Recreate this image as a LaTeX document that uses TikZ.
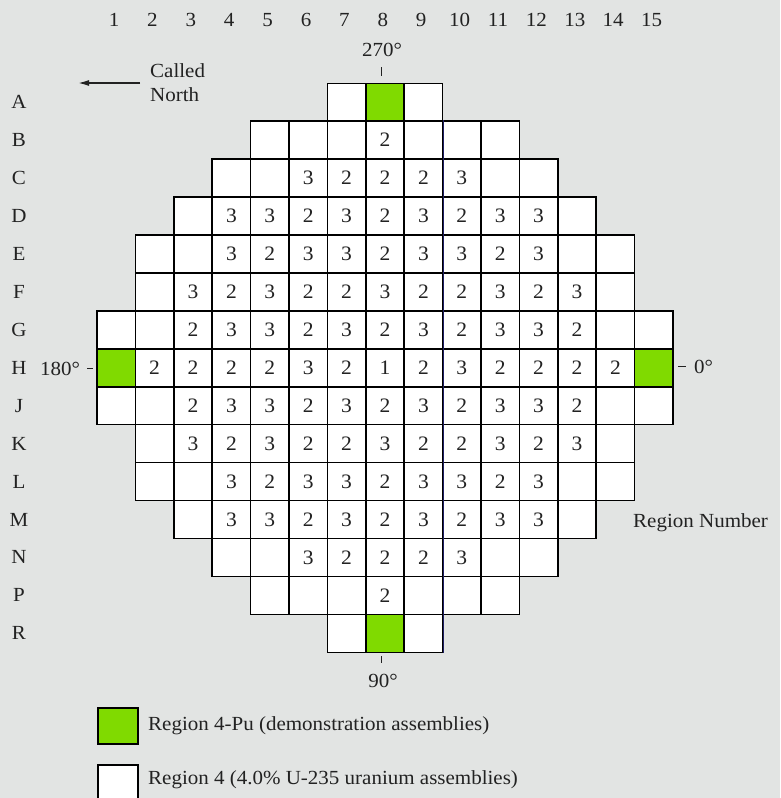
\documentclass[tikz,border=0pt]{standalone}
\usepackage{fontspec}
\setmainfont[FakeStretch=1.05]{Liberation Serif}
\usetikzlibrary{arrows.meta}
\definecolor{bg}{RGB}{226,228,227}
\definecolor{pugreen}{RGB}{128,218,0}
\definecolor{navyline}{RGB}{30,30,100}
\definecolor{ink}{RGB}{34,34,34}
\tikzset{
  cell/.style={draw=black, line width=1.5pt, fill=white, minimum width=38.4pt,
    minimum height=37.93pt, inner sep=0pt, text=ink, font=\fontsize{20.5}{20.5}\selectfont},
  lbl/.style={inner sep=0pt, text=ink, font=\fontsize{20}{20}\selectfont},
  tick/.style={line width=1pt, draw=ink},
  legbox/.style={draw=black, line width=2.2pt, minimum width=40pt, minimum height=36pt, inner sep=0pt}
}
\newcommand{\corerow}[3]{%
  \foreach \v [count=\k from #2] in {#3} {%
    \if G\v
      \node[cell, fill=pugreen] (c-#1-\k) at ({77.8+38.4*\k},{102.27+37.93*#1}) {};
    \else\if -\v
      \node[cell] (c-#1-\k) at ({77.8+38.4*\k},{102.27+37.93*#1}) {};
    \else
      \node[cell] (c-#1-\k) at ({77.8+38.4*\k},{102.27+37.93*#1}) {\v};
    \fi\fi
  }}
\begin{document}
\begin{tikzpicture}[x=1pt, y=-1pt]
\fill[bg] (0,0) rectangle (780,798);
\useasboundingbox (0,0) rectangle (780,798);

% column numbers
\foreach \i in {1,...,15} {
  \node[lbl] (col-\i) at ({114+38.4*(\i-1)},20) {\i};
}
% row letters
\foreach \r [count=\n from 0] in {A,B,C,D,E,F,G,H,J,K,L,M,N,P,R} {
  \node[lbl] (row-\r) at (19,{102.27+37.93*\n}) {\r};
}

% core map
\corerow{0}{7}{-,G,-}
\corerow{1}{5}{-,-,-,2,-,-,-}
\corerow{2}{4}{-,-,3,2,2,2,3,-,-}
\corerow{3}{3}{-,3,3,2,3,2,3,2,3,3,-}
\corerow{4}{2}{-,-,3,2,3,3,2,3,3,2,3,-,-}
\corerow{5}{2}{-,3,2,3,2,2,3,2,2,3,2,3,-}
\corerow{6}{1}{-,-,2,3,3,2,3,2,3,2,3,3,2,-,-}
\corerow{7}{1}{G,2,2,2,2,3,2,1,2,3,2,2,2,2,G}
\corerow{8}{1}{-,-,2,3,3,2,3,2,3,2,3,3,2,-,-}
\corerow{9}{2}{-,3,2,3,2,2,3,2,2,3,2,3,-}
\corerow{10}{2}{-,-,3,2,3,3,2,3,3,2,3,-,-}
\corerow{11}{3}{-,3,3,2,3,2,3,2,3,3,-}
\corerow{12}{4}{-,-,3,2,2,2,3,-,-}
\corerow{13}{5}{-,-,-,2,-,-,-}
\corerow{14}{7}{-,G,-}

\draw[navyline, line width=1.3pt] (c-1-9.north east) -- (c-14-9.south east);

% orientation labels
\node[lbl] (a270) at (382,50) {270°};
\draw[tick] (381,67) -- (381,76);
\node[lbl] (a90) at (383,681) {90°};
\draw[tick] (381,656) -- (381,663);
\node[lbl] (a180) at (60,369) {180°};
\draw[tick] (87,368) -- (93,368);
\draw[tick] (678,366) -- (686,366);
\node[lbl, anchor=west] (a0) at (694,367) {0°};

% called north
\node[lbl, anchor=west, align=left, font=\fontsize{20}{24}\selectfont] (north) at (150,83) {Called\\North};
\coordinate (arrowend) at (78,83);
\draw[line width=1.6pt, draw=ink, -{Latex[length=11pt,width=6pt]}] ([xshift=-10pt]north.west) -- (arrowend);

% region number
\node[lbl, anchor=west] (regnum) at (633,523) {Region Number};

% legend
\node[legbox, fill=pugreen] (leg1) at (118,726) {};
\node[lbl, anchor=west] (leg1t) at (148,726) {Region 4-Pu (demonstration assemblies)};
\node[legbox, fill=white] (leg2) at (118,783) {};
\node[lbl, anchor=west] (leg2t) at (148,780) {Region 4 (4.0\% U-235 uranium assemblies)};
\end{tikzpicture}
\end{document}
